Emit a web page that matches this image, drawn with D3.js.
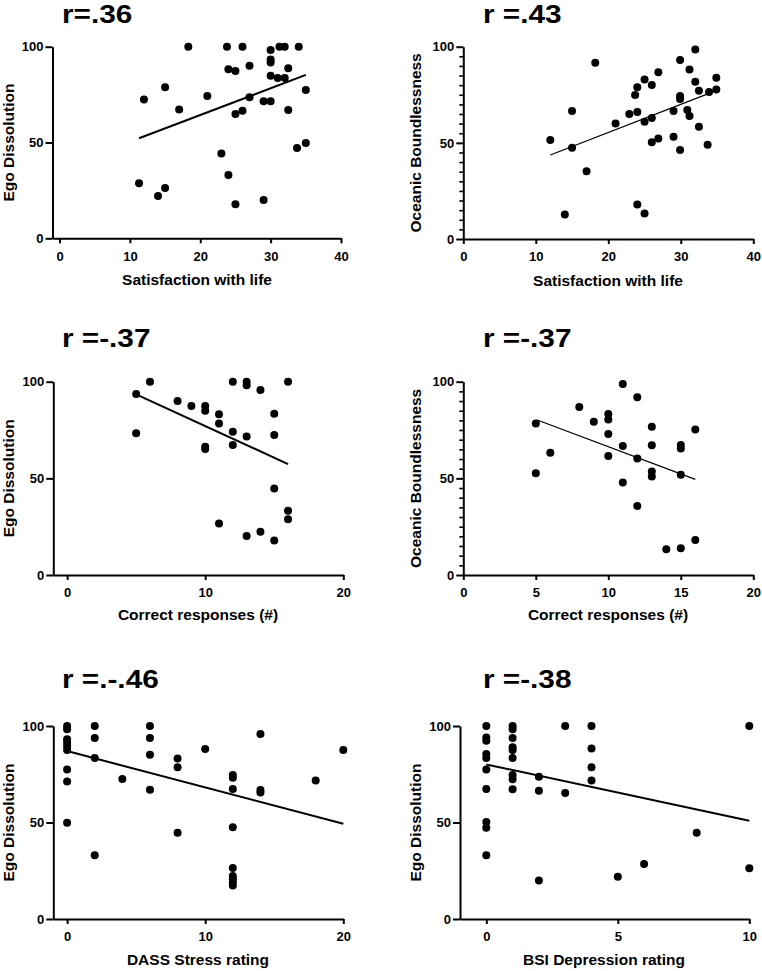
<!DOCTYPE html>
<html><head><meta charset="utf-8">
<script src="https://cdn.jsdelivr.net/npm/d3@7"></script>
<style>
body{margin:0;background:#fff}
svg{display:block}
text{font-family:"Liberation Sans",Arial,Helvetica,sans-serif;font-weight:bold;fill:#000}
</style>
</head><body><svg id="chart" width="762" height="971"></svg>
<script>
// ---------- data ----------
const titles = ["r=.36", "r =.43", "r =-.37", "r =-.37", "r =.-.46", "r =-.38"];
const xLabels = ["Satisfaction with life", "Satisfaction with life", "Correct responses (#)", "Correct responses (#)", "DASS Stress rating", "BSI Depression rating"];
const yLabels = ["Ego Dissolution", "Oceanic Boundlessness", "Ego Dissolution", "Oceanic Boundlessness", "Ego Dissolution", "Ego Dissolution"];

const yTicks = [0, 50, 100];
const xTicks1 = [0, 10, 20, 30, 40];
const xTicks2 = [0, 10, 20, 30, 40];
const xTicks3 = [0, 10, 20];
const xTicks4 = [0, 5, 10, 15, 20];
const xTicks5 = [0, 10, 20];
const xTicks6 = [0, 5, 10];

// Panel 1: Satisfaction with life vs Ego Dissolution
const swlEgoX = [18.3, 23.8, 26, 30, 31.25, 32, 34, 30, 30, 24, 25, 27, 32.5, 30, 31, 32, 15, 12, 21, 17, 27, 29, 30, 26, 25, 32.5, 35, 23, 33.75, 35, 24, 11.3, 15, 14, 25, 29];
const swlEgoY = [100, 100, 100, 98.3, 100, 100, 100, 93.3, 91.8, 88.2, 87.3, 90.1, 88.7, 84.9, 83.7, 83.7, 78.8, 72.5, 74.3, 67.2, 73.6, 71.5, 71.5, 66.6, 64.9, 67, 77.4, 44.3, 47.1, 49.7, 33, 28.7, 26.3, 22.1, 17.8, 20];
const swlEgoFitX = [11.3, 35];
const swlEgoFitY = [52.2, 85.3];

// Panel 2: Satisfaction with life vs Oceanic Boundlessness
const swlObX = [12, 15, 15, 18.2, 17, 14, 21, 22.9, 24, 23.7, 24, 25, 25, 26, 26, 26, 26.9, 26.9, 24, 25, 29, 29, 29.9, 29.9, 29.9, 29.9, 31.2, 30.9, 31.2, 32, 32, 32.5, 32.5, 33.7, 33.9, 34.9, 34.9];
const swlObY = [51.5, 66.6, 47.5, 91.7, 35.2, 12.8, 60.1, 65, 66, 74.9, 78.9, 83, 61, 80.1, 62.9, 50.3, 86.7, 52.2, 17.9, 13.3, 66.6, 53.2, 93.1, 74.4, 72.8, 46.3, 88.2, 67.1, 64, 98.6, 81.8, 58.4, 77.1, 49, 76.4, 83.9, 77.8];
const swlObFitX = [12, 33.9];
const swlObFitY = [43.7, 75.7];

// Panel 3: Correct responses vs Ego Dissolution
const corEgoX = [5, 5, 6, 8, 9, 10, 10, 10, 10, 11, 11, 11, 12, 12, 12, 13, 13, 13, 13, 14, 14, 15, 15, 15, 15, 16, 16, 16];
const corEgoY = [93.6, 73.3, 100, 90, 87.4, 87.4, 85, 66.4, 65.2, 83.1, 78.4, 26.6, 100, 74.1, 67.2, 100, 98.1, 71.6, 20.2, 95.7, 22.4, 83.4, 72.4, 44.7, 17.8, 100, 33.3, 28.8];
const corEgoFitX = [5, 16];
const corEgoFitY = [93.4, 57.4];

// Panel 4: Correct responses vs Oceanic Boundlessness
const corObX = [5, 5, 6, 8, 9, 10, 10, 10, 10, 11, 11, 11, 12, 12, 12, 13, 13, 13, 13, 14, 15, 15, 15, 15, 16, 16];
const corObY = [78.4, 52.6, 63.3, 86.9, 79.3, 83.3, 80.5, 72.9, 61.6, 98.8, 66.7, 47.8, 91.9, 60.3, 35.7, 76.7, 67.1, 53.6, 50.9, 13.3, 67.2, 65.5, 51.9, 13.8, 75.3, 18.1];
const corObFitX = [5.1, 16];
const corObFitY = [80.2, 49.5];

// Panel 5: DASS Stress vs Ego Dissolution
const dassEgoX = [0, 0, 0, 0, 0, 0, 0, 0, 0, 2, 2, 2, 2, 4, 6, 6, 6, 6, 8, 8, 8, 10, 12, 12, 12, 12, 12, 12, 12, 12, 12, 14, 14, 14, 18, 20];
const dassEgoY = [100, 98.3, 93.1, 91.4, 89.6, 87.6, 77.5, 71.2, 49.9, 100, 93.8, 83.4, 33, 72.5, 100, 93.8, 85.1, 67, 83.2, 78.6, 44.7, 88.1, 74.6, 73.2, 67.4, 47.5, 26.4, 22.3, 20.6, 19, 17.3, 95.9, 66.8, 65.5, 71.7, 87.6];
const dassEgoFitX = [0, 20];
const dassEgoFitY = [87, 49.4];

// Panel 6: BSI Depression vs Ego Dissolution
const bsiEgoX = [0, 0, 0, 0, 0, 0, 0, 0, 0, 0, 1, 1, 1, 1, 1, 1, 1, 1, 1, 2, 2, 2, 3, 3, 4, 4, 4, 4, 5, 6, 8, 10, 10];
const bsiEgoY = [100, 94.1, 92.4, 85.5, 83.4, 77.5, 67.4, 50.3, 47.3, 33, 100, 98.3, 93.8, 89, 87.6, 83.4, 74.6, 72.4, 67.2, 73.7, 66.5, 19.9, 100, 65.3, 100, 88.3, 78.6, 71.7, 21.9, 28.5, 44.7, 100, 26.3];
const bsiEgoFitX = [0, 10];
const bsiEgoFitY = [80.1, 50.9];

// ---------- layout ----------
const panels = [
  {xs: swlEgoX, ys: swlEgoY, fx: swlEgoFitX, fy: swlEgoFitY, xDomain: [-1, 40], xTicks: xTicks1,
   left: 52.5, right: 341, top: 46.7, bottom: 238.3, minor: false, fitW: 2, titleX: 62, titleY: 23, yLabX: 14, xLabX: 197, xLabY: 285},
  {xs: swlObX, ys: swlObY, fx: swlObFitX, fy: swlObFitY, xDomain: [0, 40], xTicks: xTicks2,
   left: 463.3, right: 753.3, top: 46.7, bottom: 239, minor: true, fitW: 1.2, titleX: 483, titleY: 23, yLabX: 420.5, xLabX: 608, xLabY: 286},
  {xs: corEgoX, ys: corEgoY, fx: corEgoFitX, fy: corEgoFitY, xDomain: [-1, 20], xTicks: xTicks3,
   left: 53.3, right: 343.3, top: 381.7, bottom: 575, minor: false, fitW: 2, titleX: 62, titleY: 346.5, yLabX: 14, xLabX: 198, xLabY: 620},
  {xs: corObX, ys: corObY, fx: corObFitX, fy: corObFitY, xDomain: [0, 20], xTicks: xTicks4,
   left: 463.3, right: 753.3, top: 381.7, bottom: 575, minor: true, fitW: 1.2, titleX: 483, titleY: 346.5, yLabX: 420.5, xLabX: 608, xLabY: 620},
  {xs: dassEgoX, ys: dassEgoY, fx: dassEgoFitX, fy: dassEgoFitY, xDomain: [-1, 20], xTicks: xTicks5,
   left: 53.3, right: 343.3, top: 726, bottom: 919, minor: false, fitW: 2, titleX: 62, titleY: 688, yLabX: 14, xLabX: 198, xLabY: 965},
  {xs: bsiEgoX, ys: bsiEgoY, fx: bsiEgoFitX, fy: bsiEgoFitY, xDomain: [-1, 10], xTicks: xTicks6,
   left: 460, right: 749.3, top: 726, bottom: 919, minor: false, fitW: 2, titleX: 483, titleY: 688, yLabX: 420.5, xLabX: 604, xLabY: 965}
];

const svg = d3.select("#chart");

panels.forEach((p, i) => {
  const g = svg.append("g");
  const x = d3.scaleLinear().domain(p.xDomain).range([p.left, p.right]);
  const y = d3.scaleLinear().domain([0, 100]).range([p.bottom, p.top]);

  // title
  g.append("text")
    .attr("transform", `translate(${p.titleX},${p.titleY}) scale(1.19,1)`)
    .style("font-size", "25px")
    .text(titles[i]);

  // minor y ticks
  if (p.minor) {
    const minorVals = d3.range(5, 100, 5).filter(v => v % 50 !== 0);
    g.append("g")
      .attr("transform", `translate(${p.left},0)`)
      .call(d3.axisLeft(y).tickValues(minorVals).tickSize(4).tickFormat(""))
      .call(a => a.select(".domain").remove())
      .call(a => a.selectAll("line").attr("stroke", "#000").attr("stroke-width", 1.6));
  }

  // y axis
  g.append("g")
    .attr("transform", `translate(${p.left},0)`)
    .call(d3.axisLeft(y).tickValues(yTicks).tickSize(7).tickSizeOuter(0).tickPadding(2))
    .call(a => a.select(".domain").attr("stroke", "#000").attr("stroke-width", 2))
    .call(a => a.selectAll("line").attr("stroke", "#000").attr("stroke-width", 2))
    .call(a => a.selectAll("text").style("font-size", "13px").attr("fill", "#000"));

  // x axis
  g.append("g")
    .attr("transform", `translate(0,${p.bottom})`)
    .call(d3.axisBottom(x).tickValues(p.xTicks).tickSize(5).tickSizeOuter(0).tickPadding(8))
    .call(a => a.select(".domain").attr("stroke", "#000").attr("stroke-width", 2))
    .call(a => a.selectAll("line").attr("stroke", "#000").attr("stroke-width", 2))
    .call(a => a.selectAll("text").style("font-size", "13px").attr("fill", "#000"));

  // axis labels
  g.append("text")
    .attr("x", p.xLabX).attr("y", p.xLabY)
    .attr("text-anchor", "middle")
    .style("font-size", "15.5px")
    .text(xLabels[i]);
  g.append("text")
    .attr("transform", `translate(${p.yLabX},${(p.top + p.bottom) / 2}) rotate(-90)`)
    .attr("text-anchor", "middle")
    .style("font-size", "15.5px")
    .text(yLabels[i]);

  // regression line
  g.append("line")
    .attr("x1", x(p.fx[0])).attr("y1", y(p.fy[0]))
    .attr("x2", x(p.fx[1])).attr("y2", y(p.fy[1]))
    .attr("stroke", "#000").attr("stroke-width", p.fitW);

  // points
  g.append("g").selectAll("circle")
    .data(p.xs.map((v, k) => [v, p.ys[k]]))
    .join("circle")
    .attr("cx", d => x(d[0])).attr("cy", d => y(d[1]))
    .attr("r", 4).attr("fill", "#000");
});
</script>
</body></html>
